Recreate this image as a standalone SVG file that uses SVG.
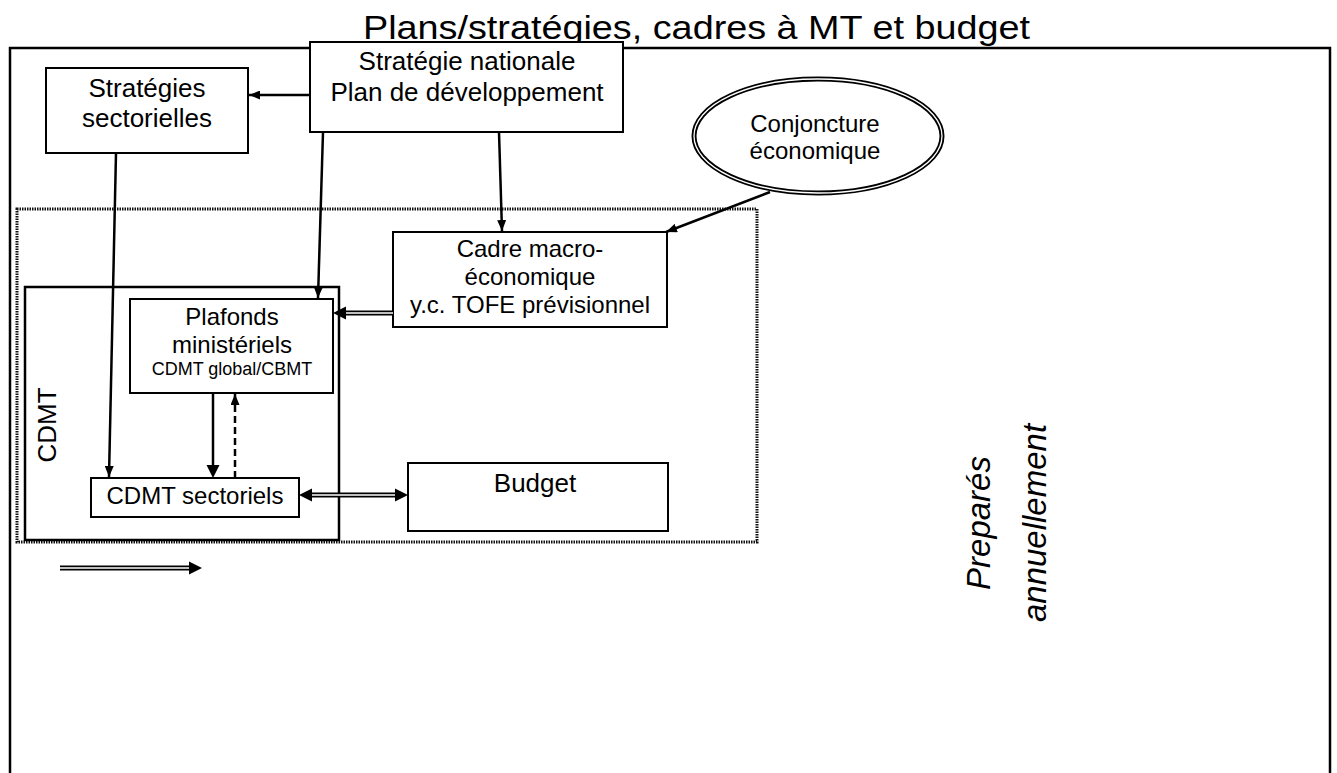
<svg xmlns="http://www.w3.org/2000/svg" width="1337" height="773" viewBox="0 0 1337 773">
<style>
text{font-family:"Liberation Sans",Arial,sans-serif;fill:#000}
.box{fill:#fff;stroke:#000;stroke-width:2}
.c{text-anchor:middle}
.ln{stroke:#000;stroke-width:2.5;fill:none}
.dbl{stroke:#000;stroke-width:5;fill:none}
.dblw{stroke:#fff;stroke-width:1.5;fill:none}
.head{fill:#000;stroke:none}
</style>
<defs>
<marker id="ah" markerUnits="userSpaceOnUse" markerWidth="11" markerHeight="9" refX="11" refY="4.5" orient="auto"><path d="M0,0 L11,4.5 L0,9 z" fill="#000"/></marker>
</defs>

<g id="frame">
<path d="M10,773 L10,48 L1330,48 L1330,773" fill="none" stroke="#000" stroke-width="2.5"/>
<text x="363" y="39" font-size="34" textLength="667" lengthAdjust="spacingAndGlyphs">Plans/stratégies, cadres à MT et budget</text>
</g>

<g id="annual-zone">
<rect x="17" y="209" width="740" height="333" fill="none" stroke="#111" stroke-width="3" stroke-dasharray="1.5 1"/>
</g>

<g id="cdmt-frame">
<rect x="25" y="287" width="314" height="253" fill="none" stroke="#000" stroke-width="2.5"/>
<text class="c" transform="translate(56,425) rotate(-90)" font-size="26">CDMT</text>
</g>

<g id="strategie-nationale">
<rect class="box" x="310" y="42" width="313" height="90"/>
<text class="c" x="467" y="70" font-size="26">Stratégie nationale</text>
<text class="c" x="467" y="101" font-size="26">Plan de développement</text>
</g>

<g id="strategies-sectorielles">
<rect class="box" x="46" y="68" width="202" height="85"/>
<text class="c" x="147" y="97" font-size="26">Stratégies</text>
<text class="c" x="147" y="127" font-size="26">sectorielles</text>
</g>

<g id="conjoncture">
<ellipse cx="818" cy="136" rx="124" ry="57" fill="#fff" stroke="#000" stroke-width="5"/>
<ellipse cx="818" cy="136" rx="124" ry="57" fill="none" stroke="#fff" stroke-width="1.3"/>
<text class="c" x="815" y="132" font-size="24">Conjoncture</text>
<text class="c" x="815" y="159" font-size="24">économique</text>
</g>

<g id="cadre-macro">
<rect class="box" x="393" y="232" width="274" height="95"/>
<text class="c" x="530" y="257" font-size="24">Cadre macro-</text>
<text class="c" x="530" y="285" font-size="24">économique</text>
<text class="c" x="530" y="313" font-size="24">y.c. TOFE prévisionnel</text>
</g>

<g id="plafonds">
<rect class="box" x="130" y="299" width="203" height="94" stroke-width="1.5"/>
<text class="c" x="232" y="325" font-size="24">Plafonds</text>
<text class="c" x="232" y="353" font-size="24">ministériels</text>
<text class="c" x="232" y="375" font-size="18">CDMT global/CBMT</text>
</g>

<g id="cdmt-sectoriels">
<rect class="box" x="91" y="478" width="208" height="39" stroke-width="1.5"/>
<text class="c" x="195" y="504" font-size="24">CDMT sectoriels</text>
</g>

<g id="budget">
<rect class="box" x="408" y="463" width="260" height="68"/>
<text class="c" x="535" y="492" font-size="26">Budget</text>
</g>

<g id="prepares">
<text class="c" transform="translate(990,523) rotate(-90)" font-size="33" font-style="italic">Preparés</text>
<text class="c" transform="translate(1046,523) rotate(-90)" font-size="33" font-style="italic">annuellement</text>
</g>

<g id="connectors">
<line class="ln" x1="310" y1="95" x2="249" y2="95" marker-end="url(#ah)"/>
<line class="ln" x1="323" y1="132" x2="318" y2="298" marker-end="url(#ah)"/>
<line class="ln" x1="499" y1="132" x2="502" y2="231" marker-end="url(#ah)"/>
<line class="ln" x1="116" y1="153" x2="109" y2="477" marker-end="url(#ah)"/>
<line class="ln" x1="770" y1="192" x2="666" y2="232" stroke-width="1.5" marker-end="url(#ah)"/>
<!-- Cadre -> Plafonds -->
<line class="dbl" x1="393" y1="313" x2="344" y2="313"/>
<line class="dblw" x1="393" y1="313" x2="344" y2="313"/>
<polygon class="head" points="333,313 346,306.5 346,319.5"/>
<!-- Plafonds -> CDMT sectoriels -->
<line class="ln" x1="213" y1="393" x2="213" y2="467" stroke-width="4"/>
<polygon class="head" points="213,478 206.5,465 219.5,465"/>
<!-- dashed feedback -->
<line class="ln" x1="235" y1="478" x2="235" y2="394" stroke-dasharray="7 4" marker-end="url(#ah)"/>
<!-- CDMT sectoriels <-> Budget -->
<line class="dbl" x1="310" y1="495" x2="397" y2="495"/>
<line class="dblw" x1="310" y1="495" x2="397" y2="495"/>
<polygon class="head" points="299,495 312,488.5 312,501.5"/>
<polygon class="head" points="408,495 395,488.5 395,501.5"/>
<!-- legend arrow -->
<line class="dbl" x1="60" y1="568" x2="191" y2="568"/>
<line class="dblw" x1="60" y1="568" x2="191" y2="568"/>
<polygon class="head" points="202,568 189,561.5 189,574.5"/>
</g>
</svg>
